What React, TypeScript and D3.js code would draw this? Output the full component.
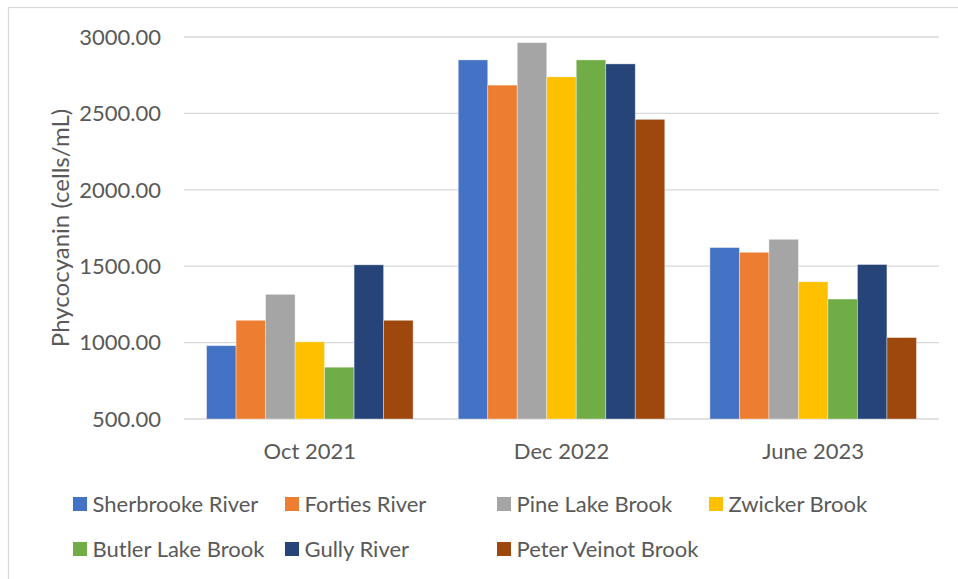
import React from "react";
import * as d3 from "d3";

// Sampling periods and river/brook sites
const periods = ["Oct 2021", "Dec 2022", "June 2023"];
const sites = [
  "Sherbrooke River",
  "Forties River",
  "Pine Lake Brook",
  "Zwicker Brook",
  "Butler Lake Brook",
  "Gully River",
  "Peter Veinot Brook",
];
const siteColors = ["#4472C4", "#ED7D31", "#A5A5A5", "#FFC000", "#70AD47", "#264478", "#9E480E"];

// Phycocyanin (cells/mL) per site, one value per period
const sherbrookeRiver = [980, 2850, 1622];
const fortiesRiver = [1146, 2685, 1591];
const pineLakeBrook = [1316, 2963, 1676];
const zwickerBrook = [1005, 2739, 1398];
const butlerLakeBrook = [839, 2850, 1285];
const gullyRiver = [1509, 2824, 1511];
const peterVeinotBrook = [1146, 2461, 1033];
const seriesValues = [
  sherbrookeRiver,
  fortiesRiver,
  pineLakeBrook,
  zwickerBrook,
  butlerLakeBrook,
  gullyRiver,
  peterVeinotBrook,
];

const yTicks = [500, 1000, 1500, 2000, 2500, 3000];
const yTitle = "Phycocyanin (cells/mL)";

const W = 958;
const H = 579;
const FONT = "Lato, 'Open Sans', sans-serif";
const TEXT = "#595959";
const GRID = "#D9D9D9";

export default function App() {
  const plotLeft = 184;
  const plotRight = 939;
  const plotTop = 37;
  const plotBottom = 419;

  const x0 = d3.scaleBand<string>().domain(periods).range([plotLeft, plotRight]).padding(0);
  const x1 = d3
    .scaleBand<string>()
    .domain(sites)
    .range([0, x0.bandwidth()])
    .paddingInner(0)
    .paddingOuter(0.765);
  const y = d3.scaleLinear().domain([500, 3000]).range([plotBottom, plotTop]);

  const legendCols = [73, 285, 497, 709];
  const legendRows = [504, 549];

  return (
    <svg
      width={W}
      height={H}
      style={{ position: "absolute", left: 0, top: 0, background: "#fff" }}
      fontFamily={FONT}
    >
      <rect x={0} y={0} width={W} height={H} fill="#fff" />
      {/* chart frame */}
      <rect x={8.5} y={7.5} width={W + 20} height={H + 20} fill="none" stroke={GRID} strokeWidth={1.25} />

      {/* gridlines and y tick labels */}
      {yTicks.map((t) => (
        <g key={t}>
          <line x1={plotLeft} x2={plotRight} y1={y(t)} y2={y(t)} stroke={GRID} strokeWidth={1.3} />
          <text
            x={161}
            y={y(t)}
            dy="0.35em"
            textAnchor="end"
            fontSize={22}
            fill={TEXT}
          >
            {d3.format(".2f")(t)}
          </text>
        </g>
      ))}

      {/* bars */}
      {periods.map((p, pi) => (
        <g key={p} transform={`translate(${x0(p)},0)`}>
          {sites.map((s, si) => {
            const v = seriesValues[si][pi];
            return (
              <rect
                key={s}
                x={x1(s)}
                y={y(v)}
                width={x1.bandwidth()}
                height={y(500) - y(v)}
                fill={siteColors[si]}
                stroke="#ffffff"
                strokeOpacity={0.45}
                strokeWidth={0.8}
              />
            );
          })}
        </g>
      ))}

      {/* category labels */}
      {periods.map((p) => (
        <text
          key={p}
          x={(x0(p) as number) + x0.bandwidth() / 2}
          y={451}
          dy="0.35em"
          textAnchor="middle"
          fontSize={22}
          fill={TEXT}
        >
          {p}
        </text>
      ))}

      {/* y axis title */}
      <text
        transform={`translate(61,${(plotTop + plotBottom) / 2}) rotate(-90)`}
        textAnchor="middle"
        dy="0.35em"
        fontSize={24}
        fill={TEXT}
      >
        {yTitle}
      </text>

      {/* legend */}
      {sites.map((s, i) => {
        const cx = legendCols[i % 4];
        const cy = legendRows[Math.floor(i / 4)];
        return (
          <g key={s}>
            <rect x={cx} y={cy - 7} width={14} height={14} fill={siteColors[i]} />
            <text x={cx + 19.5} y={cy} dy="0.35em" fontSize={22} fill={TEXT}>
              {s}
            </text>
          </g>
        );
      })}
    </svg>
  );
}
